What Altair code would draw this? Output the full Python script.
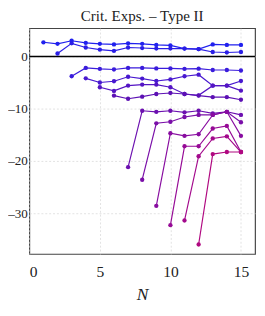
import altair as alt
import pandas as pd

# each series k starts at N = k and runs to N = 15
s01 = [2.7, 2.4, 3.0, 2.6, 2.4, 2.3, 2.5, 2.4, 2.2, 2.1, 1.5, 1.4, 2.3, 2.2, 2.2]
s02 = [0.55, 2.5, 1.7, 1.3, 1.05, 1.7, 1.6, 1.5, 1.5, 1.5, 1.4, 0.85, 0.75, 0.85]
s03 = [-3.8, -2.2, -2.4, -2.5, -2.2, -2.2, -2.3, -2.3, -2.4, -2.35, -2.6, -2.6, -2.7]
s04 = [-4.2, -5.0, -4.75, -3.9, -4.25, -4.7, -4.4, -3.8, -3.5, -5.6, -5.6, -4.7]
s05 = [-5.9, -6.6, -5.6, -5.4, -5.4, -5.9, -7.2, -7.45, -5.6, -5.6, -6.55]
s06 = [-7.5, -8.1, -7.7, -7.2, -7.0, -7.2, -7.5, -7.8, -7.8, -8.3]
s07 = [-21.2, -10.4, -10.6, -10.4, -10.7, -10.4, -10.9, -10.6, -11.2]
s08 = [-23.6, -12.8, -12.5, -11.6, -11.2, -11.2, -10.6, -12.6]
s09 = [-28.6, -14.7, -15.2, -14.9, -11.2, -10.6, -15.2]
s10 = [-32.3, -17.2, -17.2, -13.8, -13.3, -18.3]
s11 = [-31.4, -19.1, -15.7, -15.3, -18.3]
s12 = [-36.0, -18.7, -18.3, -18.3]

series = [s01, s02, s03, s04, s05, s06, s07, s08, s09, s10, s11, s12]
names = [f"s{k:02d}" for k in range(1, 13)]
colors = ["#2020ee", "#2a1ee6", "#3a1cdc", "#4818d0", "#5414c4", "#5c10b4",
          "#6c10b0", "#7a0ea8", "#880ca0", "#960a96", "#a3098c", "#b00880"]

x_ticks = [0, 5, 10, 15]
y_ticks = [-30, -20, -10, 0]

rows = []
for k, vals in enumerate(series, start=1):
    for i, v in enumerate(vals):
        rows.append({"series": names[k - 1], "N": k + i, "value": v})
df = pd.DataFrame(rows)

x = alt.X("N:Q", scale=alt.Scale(domain=[0, 16], nice=False),
          axis=alt.Axis(values=x_ticks, title="N", ticks=False, domain=False,
                        labelFontSize=16, labelPadding=10, titlePadding=7,
                        titleFontStyle="italic", titleFontWeight="normal",
                        titleFontSize=18, grid=True))
y = alt.Y("value:Q", scale=alt.Scale(domain=[-37.8, 5.4], nice=False, zero=False),
          axis=alt.Axis(values=y_ticks, title=None, ticks=False, domain=False,
                        labelFontSize=13.5, labelPadding=2, grid=True,
                        labelExpr="replace(datum.label, '\u2212', '\u2013')"))
color = alt.Color("series:N", scale=alt.Scale(domain=names, range=colors), legend=None)

base = alt.Chart(df)
lines = base.mark_line(strokeWidth=1.2).encode(x=x, y=y, color=color)
points = base.mark_circle(size=20, opacity=1).encode(x=x, y=y, color=color)
zero = alt.Chart(pd.DataFrame({"z": [0]})).mark_rule(color="black", strokeWidth=1.5).encode(y="z:Q")

chart = alt.layer(zero, lines, points).properties(
    width=233, height=233,
    title=alt.TitleParams("Crit. Exps. – Type II", font="Liberation Serif", fontSize=15.5,
                          fontWeight="normal", color="#222", offset=4),
    autosize=alt.AutoSizeParams(type="none"),
    padding={"left": 22, "top": 16, "right": 2, "bottom": 52},
).configure_axis(
    labelFont="Liberation Serif", labelColor="#222",
    titleFont="Liberation Serif", titleColor="#222",
    gridColor="#d9d9d9", gridDash=[2, 2], gridWidth=0.8,
).configure_view(stroke="#444", strokeWidth=1.2)

chart.save("out.html", embed_options={"renderer": "svg", "actions": False})
